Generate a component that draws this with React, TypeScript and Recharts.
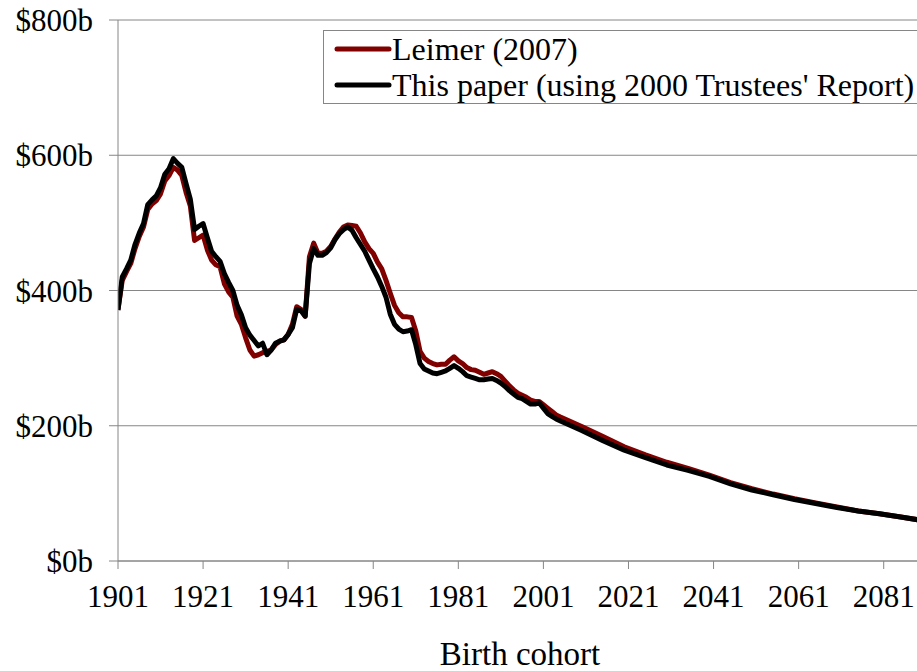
import { LineChart, Line, XAxis, YAxis, CartesianGrid } from 'recharts';

const years = [
  1901, 1902, 1903, 1904, 1905, 1906, 1907, 1908, 1909, 1910,
  1911, 1912, 1913, 1914, 1915, 1916, 1917, 1918, 1919, 1920,
  1921, 1922, 1923, 1924, 1925, 1926, 1927, 1928, 1929, 1930,
  1931, 1932, 1933, 1934, 1935, 1936, 1937, 1938, 1939, 1940,
  1941, 1942, 1943, 1944, 1945, 1946, 1947, 1948, 1949, 1950,
  1951, 1952, 1953, 1954, 1955, 1956, 1957, 1958, 1959, 1960,
  1961, 1962, 1963, 1964, 1965, 1966, 1967, 1968, 1969, 1970,
  1971, 1972, 1973, 1974, 1975, 1976, 1977, 1978, 1979, 1980,
  1981, 1982, 1983, 1984, 1985, 1986, 1987, 1988, 1989, 1990,
  1991, 1992, 1993, 1994, 1995, 1996, 1997, 1998, 1999, 2000,
  2001, 2002, 2003, 2004, 2005,
  2010, 2015, 2020, 2025, 2030, 2035, 2040, 2045, 2050, 2055,
  2060, 2065, 2070, 2075, 2080, 2085, 2090,
];

// Leimer (2007), $ billions
const leimer = [
  372, 415, 428, 440, 462, 480, 494, 520, 528, 533,
  543, 562, 570, 582, 578, 570, 545, 525, 474, 478,
  482, 460, 445, 438, 435, 410, 398, 390, 362, 350,
  330, 312, 303, 305, 308, 310, 312, 320, 325, 327,
  335, 350, 376, 372, 362, 450, 470, 455, 455, 458,
  465, 476, 486, 494, 497, 496, 495, 485, 472, 462,
  455, 442, 432, 415, 396, 378, 367, 361, 361, 360,
  340, 310, 300, 295, 292, 290, 291, 291, 297, 302,
  296, 292, 286, 283, 282, 279, 276, 278, 280, 277,
  273, 266, 259, 253, 248, 245, 242, 238, 236, 236,
  231, 226, 221, 216, 213,
  199, 184, 169, 157, 146, 137, 127, 116, 107, 99,
  92, 86, 80, 74, 70, 65, 60,
];

// This paper (using 2000 Trustees' Report), $ billions
const thisPaper = [
  371, 420, 432, 445, 468, 485, 499, 527, 534, 540,
  552, 572, 580, 595, 588, 582, 558, 535, 490, 495,
  499, 478, 458, 450, 443, 425, 412, 400, 378, 364,
  345, 334, 326, 318, 322, 305, 312, 322, 325, 327,
  335, 345, 372, 370, 362, 440, 462, 452, 452, 456,
  463, 475, 484, 490, 494, 489, 478, 468, 458, 445,
  432, 420, 406, 390, 365, 350, 343, 339, 340, 342,
  320, 292, 284, 281, 278, 277, 279, 281, 285, 289,
  285, 280, 274, 272, 270, 268, 268, 269, 270, 267,
  263, 258, 252, 247, 242, 240, 236, 232, 232, 234,
  226, 218, 214, 210, 207,
  193, 178, 164, 153, 142, 134, 125, 114, 105, 98,
  91, 85, 79, 74, 70, 65, 60,
];

const xTicks = [1901, 1921, 1941, 1961, 1981, 2001, 2021, 2041, 2061, 2081];
const yTicks = [0, 200, 400, 600, 800];

const leimerRows = years.map((year, i) => ({ year, v: leimer[i] }));
const paperRows = years.map((year, i) => ({ year, v: thisPaper[i] }));

const FONT = "'Times New Roman', 'Liberation Serif', serif";
const GRAY = '#868686';

const legendItems = [
  { label: 'Leimer (2007)', color: '#800000' },
  { label: "This paper (using 2000 Trustees' Report)", color: '#000000' },
];

function LegendBox() {
  return (
    <div
      style={{
        position: 'absolute',
        left: 323,
        top: 30,
        border: `1px solid ${GRAY}`,
        background: '#fff',
        width: 640,
        fontFamily: FONT,
        fontSize: 32,
        color: '#000',
      }}
    >
      {legendItems.map((item) => (
        <div key={item.label} style={{ display: 'flex', alignItems: 'center', height: 36 }}>
          <svg width={68} height={10} style={{ flex: 'none' }}>
            <line x1={13} y1={5} x2={65} y2={5} stroke={item.color} strokeWidth={5} strokeLinecap="round" />
          </svg>
          <span style={{ whiteSpace: 'nowrap', lineHeight: '36px' }}>{item.label}</span>
        </div>
      ))}
    </div>
  );
}

export default function App() {
  return (
    <div
      style={{
        position: 'absolute',
        left: 0,
        top: 0,
        width: 917,
        height: 671,
        overflow: 'hidden',
        background: '#fff',
        fontFamily: FONT,
      }}
    >
      <LineChart width={922} height={671} margin={{ top: 20, right: 0, bottom: 0, left: 0 }}>
        <CartesianGrid horizontal vertical={false} stroke={GRAY} />
        <XAxis
          dataKey="year"
          type="number"
          domain={[1901, 2090]}
          ticks={xTicks}
          interval={0}
          allowDataOverflow
          height={110}
          tickSize={8}
          tickMargin={16}
          stroke={GRAY}
          tick={{ fill: '#000', fontSize: 31, fontFamily: FONT }}
          label={{
            value: 'Birth cohort',
            position: 'insideBottom',
            offset: 6,
            fill: '#000',
            fontSize: 33,
            fontFamily: FONT,
          }}
        />
        <YAxis
          type="number"
          domain={[0, 800]}
          ticks={yTicks}
          width={118}
          tickSize={9}
          tickMargin={16}
          stroke={GRAY}
          tickFormatter={(v: number) => `$${v}b`}
          tick={{ fill: '#000', fontSize: 31, fontFamily: FONT }}
        />
        <Line
          data={leimerRows}
          dataKey="v"
          name="Leimer (2007)"
          stroke="#800000"
          strokeWidth={5}
          dot={false}
          type="linear"
          strokeLinejoin="round"
          isAnimationActive={false}
        />
        <Line
          data={paperRows}
          dataKey="v"
          name="This paper (using 2000 Trustees' Report)"
          stroke="#000000"
          strokeWidth={5}
          dot={false}
          type="linear"
          strokeLinejoin="round"
          isAnimationActive={false}
        />
      </LineChart>
      <LegendBox />
    </div>
  );
}
